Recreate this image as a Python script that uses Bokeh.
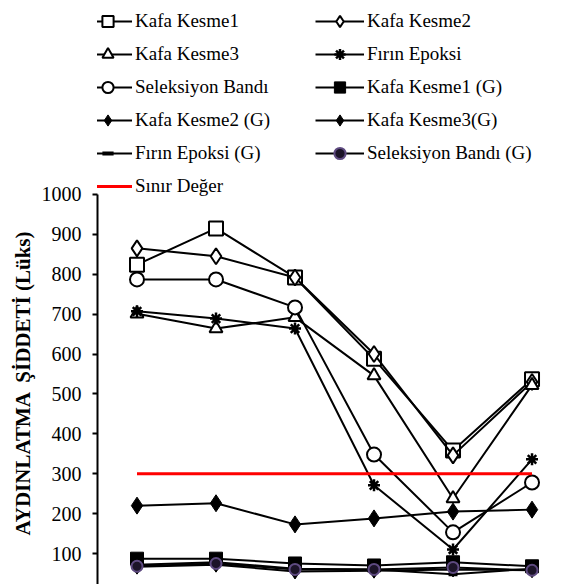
from bokeh.plotting import figure
from bokeh.models import Legend, LegendItem, SingleIntervalTicker, Range1d, Title
from bokeh.embed import file_html
from bokeh.resources import INLINE

olcum_noktasi = [1, 2, 3, 4, 5, 6]
kafa_kesme1 = [824, 915, 792, 588, 358, 537]
kafa_kesme2 = [865, 845, 792, 600, 346, 530]
kafa_kesme3 = [701, 664, 692, 546, 238, 522]
firin_epoksi = [707, 689, 664, 271, 110, 336]
seleksiyon_bandi = [787, 787, 717, 348, 153, 278]
kafa_kesme1_g = [87, 87, 75, 70, 78, 68]
kafa_kesme2_g = [220, 226, 173, 188, 205, 210]
kafa_kesme3_g = [67, 72, 55, 57, 60, 58]
firin_epoksi_g = [72, 78, 62, 60, 48, 62]
seleksiyon_bandi_g = [68, 75, 60, 60, 65, 58]
sinir_deger = [300, 300, 300, 300, 300, 300]

FONT = "Liberation Serif"

p = figure(width=573, height=584, output_backend="svg", toolbar_location=None,
           x_range=Range1d(0.5, 6.525), y_range=Range1d(22.3, 1486.3),
           x_axis_location=None, min_border_left=97, min_border_top=0,
           min_border_bottom=0, min_border_right=0)
p.outline_line_color = None
p.grid.visible = False

ax = p.yaxis[0]
ax.bounds = (0, 1000)
ax.ticker = SingleIntervalTicker(interval=100)
ax.axis_line_width = 2
ax.axis_line_color = "black"
ax.major_tick_line_width = 2
ax.major_tick_out = 5
ax.major_tick_in = 0
ax.minor_tick_line_color = None
ax.major_label_text_font = FONT
ax.major_label_text_font_size = "20px"
ax.major_label_text_color = "black"
ax.major_label_standoff = 11

p.add_layout(Title(text="AYDINLATMA \u00a0ŞİDDETİ (Lüks)", align="left", offset=49,
                   text_font=FONT, text_font_size="21px", text_font_style="bold",
                   text_color="black", standoff=8), "left")

series = [
    ("Kafa Kesme1", kafa_kesme1, "square", 14, "white", "black", 2),
    ("Kafa Kesme2", kafa_kesme2, "diamond", 16, "white", "black", 2),
    ("Kafa Kesme3", kafa_kesme3, "triangle", 13, "white", "black", 2),
    ("Fırın Epoksi", firin_epoksi, "asterisk", 12, "black", "black", 2.5),
    ("Seleksiyon Bandı", seleksiyon_bandi, "circle", 14, "white", "black", 2),
    ("Kafa Kesme1 (G)", kafa_kesme1_g, "square", 13, "black", "black", 1),
    ("Kafa Kesme2 (G)", kafa_kesme2_g, "diamond", 17, "black", "black", 1),
    ("Kafa Kesme3(G)", kafa_kesme3_g, "diamond", 15, "black", "black", 1),
    ("Fırın Epoksi (G)", firin_epoksi_g, "dash", 9, "black", "black", 4),
    ("Seleksiyon Bandı (G)", seleksiyon_bandi_g, "circle", 11, "#1c1428", "#5e4a80", 2),
]

items = []
for name, vals, marker, size, fill, lc, lw in series:
    r1 = p.line(olcum_noktasi, vals, line_color="black", line_width=2)
    r2 = p.scatter(olcum_noktasi, vals, marker=marker, size=size,
                   fill_color=fill, line_color=lc, line_width=lw)
    items.append(LegendItem(label=name, renderers=[r1, r2]))

rs = p.line(olcum_noktasi, sinir_deger, line_color="#ff0000", line_width=3)
items.append(LegendItem(label="Sınır Değer", renderers=[rs]))

left_items = [items[i] for i in (0, 2, 4, 6, 8, 10)]
right_items = [items[i] for i in (1, 3, 5, 7, 9)]

def make_legend(its, loc):
    return Legend(items=its, location=loc, orientation="vertical",
                  glyph_width=49, glyph_height=28, label_height=28,
                  label_standoff=3, spacing=5, padding=0, margin=0,
                  border_line_color=None, background_fill_alpha=0,
                  label_text_font=FONT, label_text_font_size="19px",
                  label_text_color="black")

p.add_layout(make_legend(left_items, (-14, 384)))
p.add_layout(make_legend(right_items, (218, 417)))

open("out.html", "w").write(file_html(p, INLINE))
